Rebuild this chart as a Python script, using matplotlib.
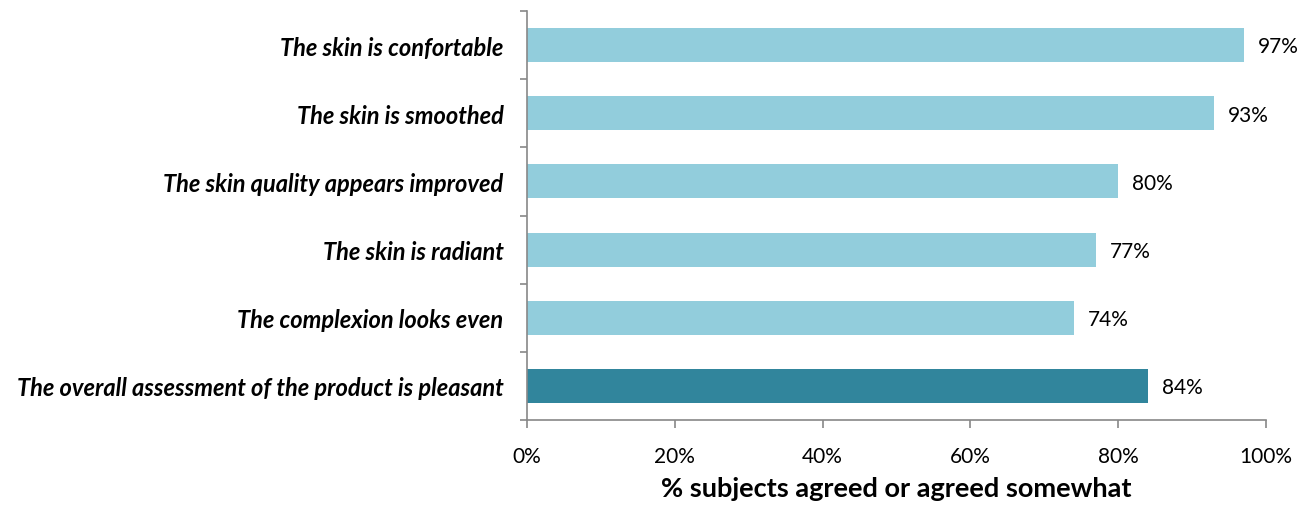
import numpy as np
import matplotlib.pyplot as plt
from matplotlib.ticker import FuncFormatter

# Data (top to bottom as in the chart)
categories = ['The skin is confortable',
              'The skin is smoothed',
              'The skin quality appears improved',
              'The skin is radiant',
              'The complexion looks even',
              'The overall assessment of the product is pleasant']
values = [97, 93, 80, 77, 74, 84]
bar_colors = ['#92CDDC', '#92CDDC', '#92CDDC', '#92CDDC', '#92CDDC', '#31859C']
x_ticks = [0, 20, 40, 60, 80, 100]

plt.rcParams['font.family'] = ['Lato', 'DejaVu Sans']

fig = plt.figure(figsize=(13.1, 5.06), dpi=100)
axe = fig.add_axes([527 / 1310, 85 / 506, 739 / 1310, 409 / 506])

y = np.arange(len(categories))
axe.barh(y, values, height=0.5, color=bar_colors)

# Value labels
for yi, v in zip(y, values):
    axe.text(v + 1.9, yi + 0.02, '%d%%' % v, va='center', ha='left', fontsize=15)

axe.set_ylim(len(categories) - 0.5, -0.5)
axe.set_xlim(0, 100)

# Ticks between categories
axe.set_yticks(np.arange(len(categories) + 1) - 0.5)
axe.set_yticklabels([])
axe.set_yticks(y, minor=True)
axe.set_yticklabels(categories, minor=True, fontsize=17, fontweight='bold',
                    fontstyle='italic')
axe.tick_params(axis='y', which='minor', length=0, pad=17)
axe.tick_params(axis='y', which='major', length=5, color='#888888', width=1.2)

axe.set_xticks(x_ticks)
axe.xaxis.set_major_formatter(FuncFormatter(lambda v, p: '%d%%' % v))
axe.tick_params(axis='x', length=6, color='#888888', width=1.2, labelsize=15, pad=13)

axe.set_xlabel('% subjects agreed or agreed somewhat', fontsize=19.5,
               fontweight='bold', labelpad=7)

for side in ['top', 'right']:
    axe.spines[side].set_visible(False)
for side in ['left', 'bottom']:
    axe.spines[side].set_color('#888888')
    axe.spines[side].set_linewidth(1.2)

fig.savefig('out.png', dpi=100)
